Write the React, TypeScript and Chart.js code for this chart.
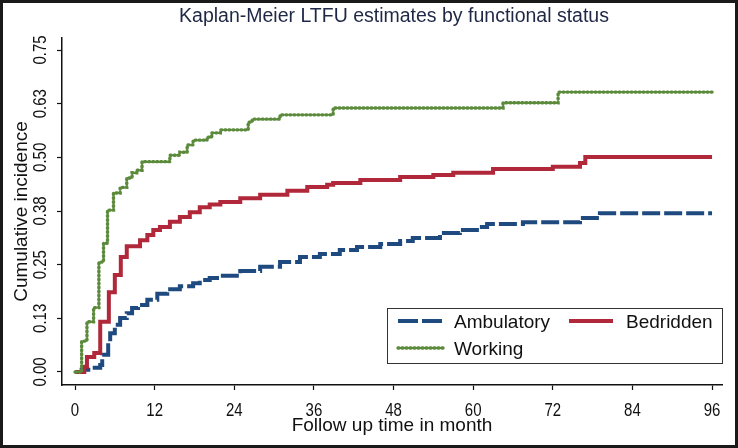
import React, { useEffect, useRef } from "react";
import { Chart, registerables } from "chart.js";

Chart.register(...registerables);

// ---- data ----
const xTicks = [0, 12, 24, 36, 48, 60, 72, 84, 96];
const yTicks = [0, 0.125, 0.25, 0.375, 0.5, 0.625, 0.75];

const ambulatoryMonths = [0, 1.0, 2.0, 3.8, 4.1, 5.0, 5.3, 6.0, 6.8, 7.8, 8.6, 9.5, 10.9, 12.4, 13.9, 15.8, 17.8, 18.8, 20.3, 21.9, 24.9, 27.9, 30.9, 33.9, 36.9, 39.9, 42.5, 46.0, 49.0, 50.9, 55.0, 58.0, 61.0, 62.1, 67.5, 76.1, 79.1, 96];
const ambulatoryValues = [0, 0.005, 0.01, 0.016, 0.04, 0.068, 0.09, 0.11, 0.126, 0.137, 0.149, 0.156, 0.168, 0.182, 0.193, 0.2, 0.207, 0.214, 0.219, 0.224, 0.235, 0.245, 0.256, 0.268, 0.275, 0.284, 0.291, 0.298, 0.305, 0.312, 0.324, 0.331, 0.338, 0.345, 0.349, 0.359, 0.37, 0.37];

const bedriddenMonths = [0, 1.4, 1.8, 2.9, 3.8, 5.1, 6.0, 6.9, 7.8, 9.8, 10.9, 11.8, 12.8, 14.3, 15.8, 17.3, 18.8, 20.3, 21.9, 24.9, 27.9, 32.0, 35.0, 38.0, 38.9, 43.0, 49.0, 54.0, 57.0, 63.0, 72.0, 76.1, 76.9, 96];
const bedriddenValues = [0, 0.012, 0.035, 0.044, 0.117, 0.186, 0.226, 0.268, 0.293, 0.307, 0.319, 0.331, 0.338, 0.35, 0.361, 0.372, 0.384, 0.39, 0.396, 0.405, 0.413, 0.422, 0.431, 0.436, 0.44, 0.447, 0.454, 0.459, 0.464, 0.473, 0.478, 0.487, 0.501, 0.501];

const workingMonths = [0, 1.0, 1.8, 2.8, 3.6, 4.3, 4.9, 5.8, 6.8, 7.8, 8.6, 9.3, 10.1, 14.3, 15.8, 16.9, 17.8, 19.9, 20.6, 21.9, 26.1, 26.7, 30.9, 38.9, 64.5, 72.8, 96];
const workingValues = [0, 0.072, 0.117, 0.15, 0.256, 0.3, 0.377, 0.417, 0.43, 0.452, 0.464, 0.47, 0.49, 0.505, 0.512, 0.529, 0.54, 0.547, 0.557, 0.564, 0.582, 0.589, 0.599, 0.615, 0.627, 0.652, 0.652];

const seriesNames = ["Ambulatory", "Bedridden", "Working"];
const titleText = "Kaplan-Meier LTFU estimates by functional status";
const xTitleText = "Follow up time in month";
const yTitleText = "Cumulative incidence";

// ---- styling ----
const W = 738;
const H = 448;
const FONT = '"Liberation Sans", Arial, sans-serif';
const BLUE = "#1f4a80";
const RED = "#b0283a";
const GREEN = "#5a8a3a";
const X_MIN = -1.96;
const X_MAX = 97.5;
const Y_MIN = -0.0303;
const Y_MAX = 0.778;

const toPoints = (xs: number[], ys: number[]) => xs.map((x, i) => ({ x, y: ys[i] }));

function drawText(
  ctx: CanvasRenderingContext2D,
  text: string,
  x: number,
  y: number,
  size: number,
  align: CanvasTextAlign,
  color: string,
  rotate = false,
  tall = 1
) {
  ctx.save();
  ctx.translate(x, y);
  if (rotate) ctx.rotate(-Math.PI / 2);
  ctx.scale(1, tall);
  ctx.font = `${size}px ${FONT}`;
  ctx.textAlign = align;
  ctx.textBaseline = "alphabetic";
  ctx.fillStyle = color;
  ctx.fillText(text, 0, 0);
  ctx.restore();
}

function legendSample(ctx: CanvasRenderingContext2D, x0: number, x1: number, y: number, style: number) {
  ctx.save();
  ctx.beginPath();
  ctx.moveTo(x0, y);
  ctx.lineTo(x1, y);
  if (style === 0) {
    ctx.strokeStyle = BLUE;
    ctx.lineWidth = 4;
    ctx.setLineDash([20, 4]);
    ctx.lineCap = "butt";
  } else if (style === 1) {
    ctx.strokeStyle = RED;
    ctx.lineWidth = 4;
    ctx.lineCap = "butt";
  } else {
    ctx.strokeStyle = GREEN;
    ctx.lineWidth = 3.4;
    ctx.setLineDash([1, 3]);
    ctx.lineCap = "round";
  }
  ctx.stroke();
  ctx.restore();
}

const decorPlugin = {
  id: "decor",
  beforeDraw(chart: any) {
    const ctx = chart.ctx as CanvasRenderingContext2D;
    ctx.save();
    ctx.fillStyle = "#ffffff";
    ctx.fillRect(0, 0, chart.width, chart.height);
    ctx.restore();
  },
  afterDraw(chart: any) {
    const ctx = chart.ctx as CanvasRenderingContext2D;
    const xs = chart.scales.x;
    const ys = chart.scales.y;
    const area = chart.chartArea;

    // title
    drawText(ctx, titleText, 394, 22, 19.5, "center", "#1e2745");

    // y tick labels (rotated)
    yTicks.forEach((v) => {
      drawText(ctx, v.toFixed(2), 46, ys.getPixelForValue(v), 15, "center", "#111", true, 1.25);
    });
    // y title
    drawText(ctx, yTitleText, 27, (area.top + area.bottom) / 2, 19, "center", "#111", true);

    // x tick labels
    xTicks.forEach((v) => {
      drawText(ctx, String(v), xs.getPixelForValue(v), 416, 15, "center", "#111", false, 1.25);
    });
    // x title
    drawText(ctx, xTitleText, (area.left + area.right) / 2, 431, 19, "center", "#111");

    // legend
    ctx.save();
    ctx.strokeStyle = "#333";
    ctx.lineWidth = 1;
    ctx.strokeRect(387.5, 308.5, 335, 55);
    ctx.restore();
    legendSample(ctx, 398, 444, 321, 0);
    drawText(ctx, seriesNames[0], 454, 328, 19, "left", "#111");
    legendSample(ctx, 569, 613, 321, 1);
    drawText(ctx, seriesNames[1], 626, 328, 19, "left", "#111");
    legendSample(ctx, 398, 444, 348, 2);
    drawText(ctx, seriesNames[2], 454, 355, 19, "left", "#111");

    // outer frame
    ctx.save();
    ctx.fillStyle = "#1a1a1a";
    ctx.fillRect(0, 0, W, 3);
    ctx.fillRect(0, H - 3, W, 3);
    ctx.fillRect(0, 0, 3, H);
    ctx.fillRect(W - 3, 0, 3, H);
    ctx.restore();
  },
};

export default function App() {
  const canvasRef = useRef<HTMLCanvasElement | null>(null);

  useEffect(() => {
    const canvas = canvasRef.current;
    if (!canvas) return;
    const chart = new Chart(canvas, {
      type: "line",
      data: {
        datasets: [
          {
            label: seriesNames[2],
            data: toPoints(workingMonths, workingValues),
            borderColor: GREEN,
            borderWidth: 3.4,
            borderDash: [1, 3],
            borderCapStyle: "round",
            stepped: "before",
            pointRadius: 0,
            fill: false,
          },
          {
            label: seriesNames[1],
            data: toPoints(bedriddenMonths, bedriddenValues),
            borderColor: RED,
            borderWidth: 4,
            stepped: "before",
            pointRadius: 0,
            fill: false,
          },
          {
            label: seriesNames[0],
            data: toPoints(ambulatoryMonths, ambulatoryValues),
            borderColor: BLUE,
            borderWidth: 4,
            borderDash: [18, 4],
            stepped: "before",
            pointRadius: 0,
            fill: false,
          },
        ],
      },
      options: {
        responsive: false,
        animation: false,
        devicePixelRatio: 1,
        layout: { padding: { left: 57, right: 16, top: 38, bottom: 58 } },
        plugins: {
          legend: { display: false },
          title: { display: false },
          tooltip: { enabled: false },
        },
        scales: {
          x: {
            type: "linear",
            min: X_MIN,
            max: X_MAX,
            afterBuildTicks: (s: any) => {
              s.ticks = xTicks.map((v) => ({ value: v }));
            },
            ticks: { display: false },
            grid: {
              display: true,
              drawOnChartArea: false,
              drawTicks: true,
              tickLength: 5,
              tickColor: "#111",
              tickWidth: 1.2,
            },
            border: { display: true, color: "#111", width: 1.5 },
          },
          y: {
            type: "linear",
            min: Y_MIN,
            max: Y_MAX,
            afterBuildTicks: (s: any) => {
              s.ticks = yTicks.map((v) => ({ value: v }));
            },
            ticks: { display: false },
            grid: {
              display: true,
              drawOnChartArea: false,
              drawTicks: true,
              tickLength: 5,
              tickColor: "#111",
              tickWidth: 1.2,
            },
            border: { display: true, color: "#111", width: 1.5 },
          },
        },
      },
      plugins: [decorPlugin],
    });
    return () => chart.destroy();
  }, []);

  return (
    <div style={{ position: "fixed", left: 0, top: 0, width: W, height: H, background: "#fff" }}>
      <canvas ref={canvasRef} width={W} height={H} style={{ display: "block", width: W, height: H }} />
    </div>
  );
}
